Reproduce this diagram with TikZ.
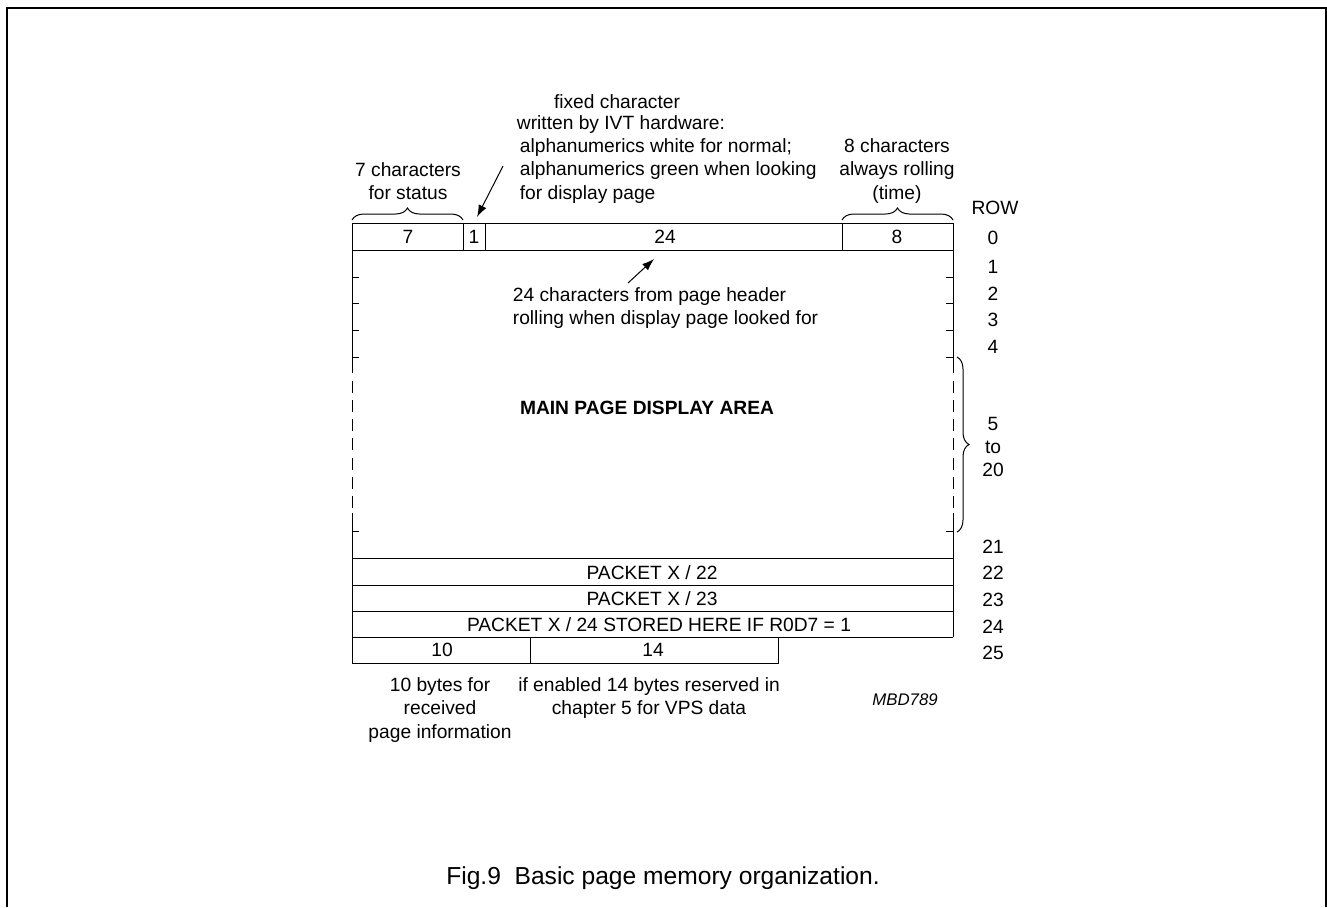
\documentclass[tikz,border=0pt]{standalone}
\usepackage{fontspec}
\setmainfont{Liberation Sans}
\usetikzlibrary{arrows.meta,decorations.pathreplacing}

\begin{document}
\begin{tikzpicture}[x=0.5pt,y=-0.5pt,
	txt/.style={inner sep=0.75pt,font=\fontsize{9.6}{11.6}\selectfont,align=center},
	rule/.style={line width=0.5pt},
	ptr/.style={line width=0.5pt,-{Latex[length=6pt,width=4.2pt]}},
	brc/.style={line width=0.5pt,decorate,decoration={brace,amplitude=6pt}},
	dashside/.style={line width=0.5pt,dash pattern=on 6pt off 3.58pt}]
			\useasboundingbox (0,0) rectangle (1327,907);
			%Frame
			\draw[line width=0.75pt] (7,907) -- (7,8) -- (1326,8) -- (1326,907) ;
			%Shape: Top row
			\draw[rule] (352,250) -- (352,223) -- (953,223) -- (953,250) -- cycle ;
			\draw[rule] (463,223) -- (463,250) ;
			\draw[rule] (485,223) -- (485,250) ;
			\draw[rule] (842,223) -- (842,250) ;
			%Straight Lines: left side
			\draw[rule] (352,250) -- (352,373) ;
			\draw[dashside] (352,381) -- (352,508) ;
			\draw[rule] (352,513) -- (352,663) ;
			%Straight Lines: right side
			\draw[rule] (953,250) -- (953,373) ;
			\draw[dashside] (953,381) -- (953,508) ;
			\draw[rule] (953,513) -- (953,637) ;
			%Ticks
			\draw[rule] (352,277) -- (359,277) (352,303) -- (359,303) (352,330) -- (359,330) (352,357) -- (359,357) (352,531) -- (359,531) ;
			\draw[rule] (953,277) -- (946,277) (953,303) -- (946,303) (953,330) -- (946,330) (953,357) -- (946,357) (953,531) -- (946,531) ;
			%Shape: Packet rows
			\draw[rule] (352,558) -- (953,558) ;
			\draw[rule] (352,585) -- (953,585) ;
			\draw[rule] (352,611) -- (953,611) ;
			\draw[rule] (352,637) -- (953,637) ;
			%Shape: Row 25
			\draw[rule] (352,663) -- (778,663) -- (778,637) ;
			\draw[rule] (530,637) -- (530,663) ;
			%Braces
			\draw[brc] (352,220) -- (463,220) ;
			\draw[brc] (842,220) -- (953,220) ;
			\draw[brc] (957,357) -- (957,532) ;
			% Text Node
			\node[txt] (n7) at (408,237) {7};
			\node[txt] (n1) at (474,237) {1};
			\node[txt] (n24) at (665,237) {24};
			\node[txt] (n8) at (897,237) {8};
			% Text Node
			\node[txt] (status) at (408,181) {7 characters\\for status};
			\node[txt] (time) at (897,171) {8 characters\\always rolling\\(time)};
			\node[txt] (fixed) at (617,102) {fixed character};
			\node[txt,anchor=west] (ivt) at (515,125) {written by IVT hardware:};
			\node[txt,anchor=west,align=left] (alpha) at (518,171) {alphanumerics white for normal;\\alphanumerics green when looking\\for display page};
			\node[txt,anchor=west,align=left] (header) at (511,308) {24 characters from page header\\rolling when display page looked for};
			\node[txt,font=\fontsize{9.6}{11.6}\selectfont\bfseries] (main) at (647,408) {MAIN PAGE DISPLAY AREA};
			% Text Node
			\node[txt] (p22) at (652,573) {PACKET X / 22};
			\node[txt] (p23) at (652,599) {PACKET X / 23};
			\node[txt] (p24) at (659,625) {PACKET X / 24 STORED HERE IF R0D7 = 1};
			\node[txt] (b10) at (442,650) {10};
			\node[txt] (b14) at (653,650) {14};
			% Text Node
			\node[txt] (recv) at (440,710) {10 bytes for\\received\\page information};
			\node[txt] (vps) at (649,698) {if enabled 14 bytes reserved in\\chapter 5 for VPS data};
			\node[inner sep=0.75pt,font=\fontsize{8.4}{10}\selectfont\itshape] (code) at (905,700) {MBD789};
			% Text Node: rows
			\node[txt] (rowhd) at (995,208) {ROW};
			\node[txt] (r0) at (993,238) {0};
			\node[txt] (r1) at (993,267) {1};
			\node[txt] (r2) at (993,294) {2};
			\node[txt] (r3) at (993,320) {3};
			\node[txt] (r4) at (993,347) {4};
			\node[txt] (r5) at (993,447) {5\\to\\20};
			\node[txt] (r21) at (993,547) {21};
			\node[txt] (r22) at (993,573) {22};
			\node[txt] (r23) at (993,600) {23};
			\node[txt] (r24) at (993,627) {24};
			\node[txt] (r25) at (993,653) {25};
			%Arrows
			\coordinate (fixTail) at (503,166);
			\coordinate (fixTip) at (477,217);
			\draw[ptr] (fixTail) -- (fixTip) ;
			\coordinate (hdrTail) at (628,283);
			\coordinate (hdrTip) at (654,259);
			\draw[ptr] (hdrTail) -- (hdrTip) ;
			% Caption
			\node[inner sep=0.75pt,font=\fontsize{12.3}{14}\selectfont] (caption) at (663,878) {Fig.9\ \ Basic page memory organization.};
		\end{tikzpicture}
\end{document}
